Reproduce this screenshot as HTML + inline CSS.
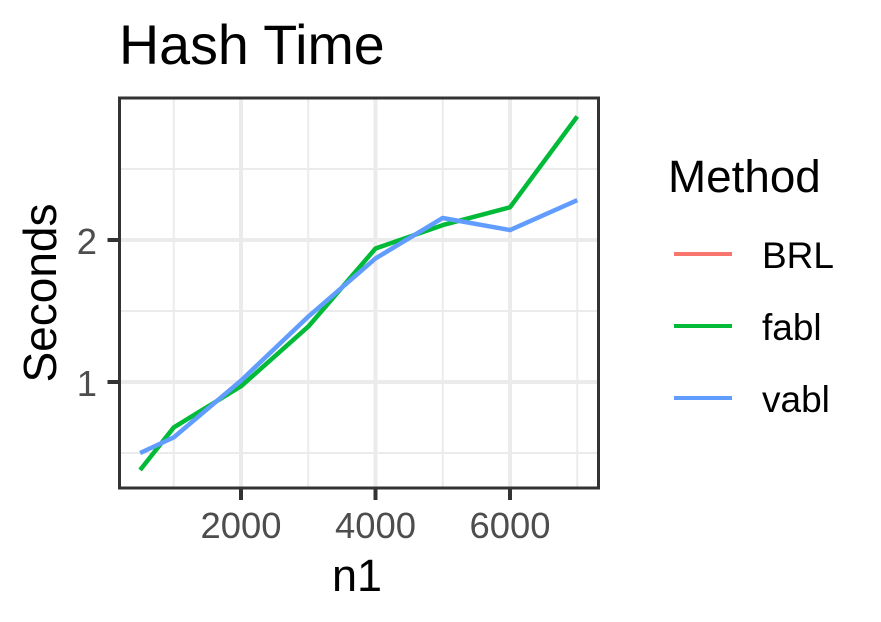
<!DOCTYPE html>
<html>
<head>
<meta charset="utf-8">
<title>Hash Time</title>
<style>
html,body{margin:0;padding:0;background:#fff;}
svg{display:block;}
text{font-family:"Liberation Sans",sans-serif;}
</style>
</head>
<body>
<svg id="chart" xmlns="http://www.w3.org/2000/svg" width="881" height="622" viewBox="0 0 881 622"></svg>
<script>
const categories = [500, 1000, 2000, 3000, 4000, 5000, 6000, 7000];
const brlValues = [];
const fablValues = [0.38, 0.68, 0.97, 1.39, 1.94, 2.105, 2.23, 2.87];
const vablValues = [0.5, 0.61, 1.01, 1.46, 1.87, 2.155, 2.07, 2.28];
const xMajorTicks = [2000, 4000, 6000];
const xMinorTicks = [1000, 3000, 5000, 7000];
const yMajorTicks = [1, 2];
const yMinorTicks = [0.5, 1.5, 2.5];

const svg = document.getElementById('chart');
const NS = 'http://www.w3.org/2000/svg';
const xScale = function (v) { return 241 + (v - 2000) * 0.06725; };
const yScale = function (v) { return 382 - (v - 1) * 142; };
const panel = { left: 119.5, right: 598.5, top: 98, bottom: 488 };

function make(tag, attrs, text) {
  const el = document.createElementNS(NS, tag);
  for (const k in attrs) el.setAttribute(k, attrs[k]);
  if (text !== undefined) el.textContent = text;
  svg.appendChild(el);
  return el;
}

xMinorTicks.forEach(function (t) {
  const el = make('line', { x1: xScale(t), x2: xScale(t), y1: panel.top, y2: panel.bottom, stroke: '#EBEBEB', 'stroke-width': 2 });
  
  
});
yMinorTicks.forEach(function (t) {
  const el = make('line', { x1: panel.left, x2: panel.right, y1: yScale(t), y2: yScale(t), stroke: '#EBEBEB', 'stroke-width': 2 });
  
  
});
xMajorTicks.forEach(function (t) {
  const el = make('line', { x1: xScale(t), x2: xScale(t), y1: panel.top, y2: panel.bottom, stroke: '#EBEBEB', 'stroke-width': 4 });
  
  
});
yMajorTicks.forEach(function (t) {
  const el = make('line', { x1: panel.left, x2: panel.right, y1: yScale(t), y2: yScale(t), stroke: '#EBEBEB', 'stroke-width': 4 });
  
  
});

function seriesPoints(values) {
  return values.map(function (v, i) { return xScale(categories[i]) + ',' + yScale(v); }).join(' ');
}
const brlLine = make('polyline', { points: seriesPoints(brlValues), fill: 'none', stroke: '#F8766D', 'stroke-width': 4.5, 'stroke-linejoin': 'round' });


const fablLine = make('polyline', { points: seriesPoints(fablValues), fill: 'none', stroke: '#00BA38', 'stroke-width': 4.5, 'stroke-linejoin': 'round' });


const vablLine = make('polyline', { points: seriesPoints(vablValues), fill: 'none', stroke: '#619CFF', 'stroke-width': 4.5, 'stroke-linejoin': 'round' });



const border = make('rect', { x: panel.left, y: panel.top, width: panel.right - panel.left, height: panel.bottom - panel.top, fill: 'none', stroke: '#333333', 'stroke-width': 3 });



xMajorTicks.forEach(function (t) {
  const tick = make('line', { x1: xScale(t), x2: xScale(t), y1: panel.bottom, y2: panel.bottom + 12, stroke: '#333333', 'stroke-width': 4 });
  
  
  const label = make('text', { x: xScale(t), y: 538, 'text-anchor': 'middle', 'font-size': 36.4, fill: '#4D4D4D' }, String(t));
  
  
});
yMajorTicks.forEach(function (t) {
  const tick = make('line', { x1: panel.left - 12, x2: panel.left, y1: yScale(t), y2: yScale(t), stroke: '#333333', 'stroke-width': 4 });
  
  
  const label = make('text', { x: 97, y: yScale(t) + 14, 'text-anchor': 'end', 'font-size': 36.4, fill: '#4D4D4D' }, String(t));
  
  
});

const title = make('text', { x: 119, y: 64, 'font-size': 55.6, fill: '#000' }, 'Hash Time');


const xTitle = make('text', { x: 357, y: 591, 'text-anchor': 'middle', 'font-size': 45, fill: '#000' }, 'n1');


const yTitle = make('text', { x: 0, y: 0, transform: 'translate(56 293) rotate(-90)', 'text-anchor': 'middle', 'font-size': 46, fill: '#000' }, 'Seconds');


const legendTitle = make('text', { x: 668, y: 192, 'font-size': 45.8, fill: '#000' }, 'Method');



const legendNames = ['BRL', 'fabl', 'vabl'];
const legendColors = ['#F8766D', '#00BA38', '#619CFF'];
legendNames.forEach(function (name, i) {
  const y = 254 + i * 72;
  const key = make('line', { x1: 674, x2: 732, y1: y, y2: y, stroke: legendColors[i], 'stroke-width': 4 });
  
  
  const label = make('text', { x: 762, y: y + 14, 'font-size': 37, fill: '#000' }, name);
  
  
});
</script>
</body>
</html>
